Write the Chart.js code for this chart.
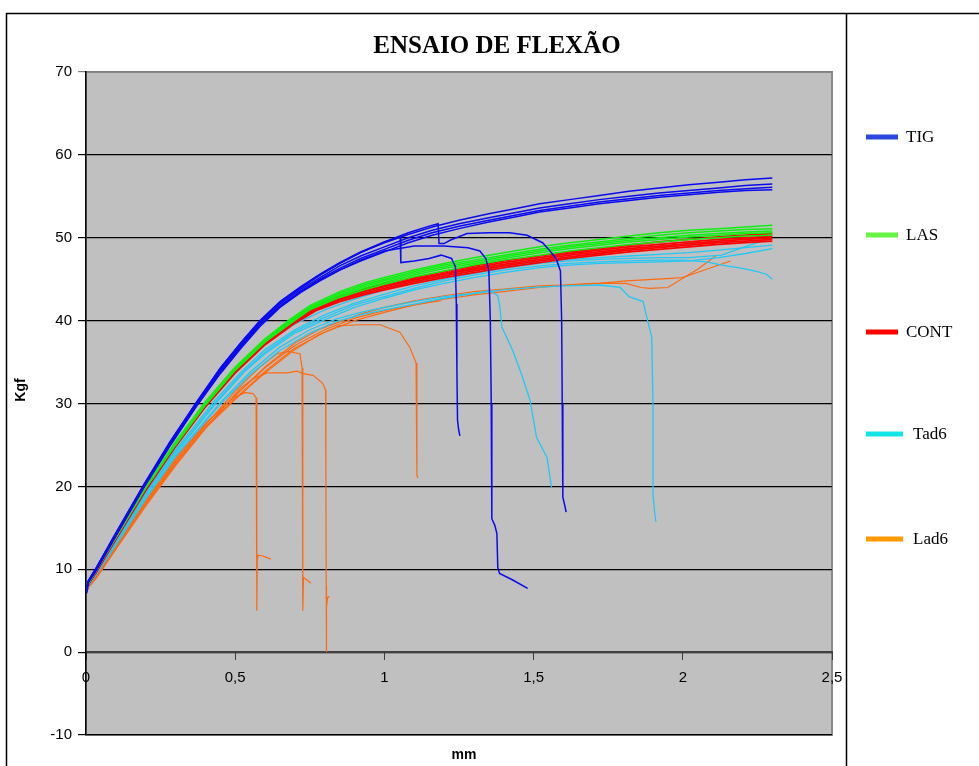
<!DOCTYPE html>
<html>
<head>
<meta charset="utf-8">
<title>Ensaio de flexão</title>
<script src="https://cdn.jsdelivr.net/npm/chart.js@4.4.1/dist/chart.umd.min.js"></script>
<style>
	html, body { margin: 0; padding: 0; background: #fff; }
	#myChart { display: block; }
</style>
</head>
<body>
<canvas id="myChart" width="979" height="766"></canvas>
<script>
// displacement (mm) / load (Kgf) pairs, one array per specimen

// TIG
const tig1 = [[0,7.1],[0.008,8.6],[0.035,10.2],[0.1,14.3],[0.195,20.2],[0.28,25.2],[0.369,30.0],[0.45,34.2],[0.52,37.3],[0.583,39.9],[0.65,42.2],[0.72,44.0],[0.784,45.5],[0.85,46.9],[0.92,48.2],[1.0,49.4],[1.08,50.4],[1.16,51.3],[1.25,52.1],[1.35,52.9],[1.45,53.6],[1.52,54.1],[1.62,54.6],[1.72,55.1],[1.82,55.6],[1.92,56.0],[2.02,56.4],[2.12,56.7],[2.21,57.0],[2.3,57.2]];
const tig2 = [[0,7.1],[0.008,8.5],[0.035,10.1],[0.1,14.2],[0.195,20.1],[0.28,25.1],[0.369,29.9],[0.45,34.0],[0.52,37.1],[0.583,39.7],[0.65,42.0],[0.72,43.8],[0.784,45.2],[0.85,46.6],[0.92,47.8],[1.0,48.9],[1.08,50.0],[1.16,50.9],[1.25,51.7],[1.35,52.4],[1.45,53.1],[1.52,53.6],[1.62,54.1],[1.72,54.6],[1.82,55.0],[1.92,55.4],[2.02,55.7],[2.12,56.0],[2.21,56.3],[2.3,56.5]];
const tig3 = [[0,7.0],[0.008,8.5],[0.035,10.0],[0.1,14.1],[0.195,20.0],[0.28,24.9],[0.369,29.7],[0.45,33.8],[0.52,36.9],[0.583,39.5],[0.65,41.8],[0.72,43.6],[0.784,45.0],[0.85,46.3],[0.92,47.5],[1.0,48.6],[1.08,49.7],[1.16,50.6],[1.25,51.4],[1.35,52.1],[1.45,52.8],[1.52,53.3],[1.62,53.8],[1.72,54.3],[1.82,54.7],[1.92,55.1],[2.02,55.4],[2.12,55.7],[2.21,55.9],[2.3,56.1]];
const tig4 = [[0,7.0],[0.008,8.4],[0.035,9.9],[0.1,14.0],[0.195,19.9],[0.28,24.8],[0.369,29.6],[0.45,33.6],[0.52,36.7],[0.583,39.3],[0.65,41.6],[0.72,43.4],[0.784,44.8],[0.85,46.1],[0.92,47.2],[1.0,48.3],[1.08,49.4],[1.16,50.3],[1.25,51.1],[1.35,51.9],[1.45,52.6],[1.52,53.1],[1.62,53.6],[1.72,54.1],[1.82,54.5],[1.92,54.9],[2.02,55.2],[2.12,55.5],[2.21,55.7],[2.3,55.8]];
const tig5 = [[0,7.2],[0.008,8.6],[0.035,10.2],[0.1,14.4],[0.195,20.3],[0.28,25.3],[0.369,30.1],[0.45,34.3],[0.52,37.4],[0.583,40.0],[0.65,42.3],[0.72,44.1],[0.784,45.6],[0.85,47.0],[0.92,48.3],[1.0,49.5],[1.053,50.1],[1.055,47.0],[1.1,47.2],[1.15,47.5],[1.19,47.9],[1.225,47.5],[1.238,46.5],[1.241,42.0],[1.243,34.0],[1.245,28.0],[1.249,26.8],[1.253,26.1]];
const tig6 = [[0,7.1],[0.008,8.6],[0.035,10.2],[0.1,14.3],[0.195,20.2],[0.28,25.2],[0.369,30.0],[0.45,34.2],[0.52,37.3],[0.583,39.9],[0.65,42.2],[0.72,44.0],[0.784,45.5],[0.85,46.9],[0.92,48.2],[1.0,49.5],[1.08,50.6],[1.15,51.4],[1.18,51.7],[1.183,49.3],[1.2,49.3],[1.22,49.7],[1.277,50.5],[1.35,50.6],[1.42,50.6],[1.478,50.3],[1.53,49.4],[1.555,48.4],[1.575,47.5],[1.59,46.0],[1.594,40.0],[1.596,30.0],[1.598,18.7],[1.605,17.6],[1.609,16.9]];
const tig7 = [[0,7.0],[0.008,8.5],[0.035,10.0],[0.1,14.1],[0.195,20.0],[0.28,24.9],[0.369,29.7],[0.45,33.8],[0.52,36.9],[0.583,39.5],[0.65,41.7],[0.72,43.5],[0.784,44.9],[0.85,46.1],[0.92,47.3],[1.0,48.4],[1.1,49.0],[1.2,49.0],[1.28,48.8],[1.32,48.4],[1.34,47.5],[1.35,46.0],[1.355,40.0],[1.358,30.0],[1.36,16.1],[1.37,15.3],[1.377,14.3],[1.38,10.2],[1.386,9.5],[1.43,8.7],[1.48,7.7]];

// LAS
const las1 = [[0,7.0],[0.008,8.4],[0.035,10.0],[0.1,14.0],[0.2,20.0],[0.3,25.4],[0.4,30.2],[0.5,34.4],[0.6,37.8],[0.678,40.0],[0.75,41.8],[0.85,43.5],[0.93,44.5],[1.0,45.2],[1.1,46.1],[1.2,46.9],[1.3,47.6],[1.4,48.2],[1.52,48.9],[1.62,49.4],[1.72,49.8],[1.82,50.2],[1.92,50.6],[2.02,50.9],[2.12,51.1],[2.21,51.3],[2.3,51.5]];
const las2 = [[0,7.0],[0.008,8.4],[0.035,10.0],[0.1,14.0],[0.2,19.9],[0.3,25.3],[0.4,30.1],[0.5,34.3],[0.6,37.7],[0.68,39.9],[0.75,41.6],[0.85,43.3],[0.93,44.3],[1.0,45.0],[1.1,45.9],[1.2,46.7],[1.3,47.3],[1.4,47.9],[1.52,48.6],[1.62,49.1],[1.72,49.5],[1.82,49.9],[1.92,50.3],[2.02,50.6],[2.12,50.8],[2.21,51.0],[2.3,51.1]];
const las3 = [[0,7.0],[0.008,8.3],[0.035,9.9],[0.1,13.9],[0.2,19.9],[0.3,25.2],[0.4,30.0],[0.5,34.2],[0.6,37.6],[0.68,39.8],[0.75,41.5],[0.85,43.1],[0.93,44.1],[1.0,44.8],[1.1,45.7],[1.2,46.5],[1.3,47.1],[1.4,47.7],[1.52,48.4],[1.62,48.9],[1.72,49.3],[1.82,49.7],[1.92,50.0],[2.02,50.3],[2.12,50.5],[2.21,50.7],[2.3,50.8]];
const las4 = [[0,7.0],[0.008,8.3],[0.035,9.9],[0.1,13.9],[0.2,19.8],[0.3,25.1],[0.4,29.9],[0.5,34.1],[0.6,37.5],[0.69,39.9],[0.75,41.4],[0.85,42.9],[0.93,43.9],[1.0,44.6],[1.1,45.5],[1.2,46.3],[1.3,46.9],[1.4,47.5],[1.52,48.2],[1.62,48.7],[1.72,49.1],[1.82,49.5],[1.92,49.8],[2.02,50.1],[2.12,50.3],[2.21,50.5],[2.3,50.6]];
const las5 = [[0,7.0],[0.008,8.3],[0.035,9.9],[0.1,13.8],[0.2,19.8],[0.3,25.0],[0.4,29.8],[0.5,34.0],[0.6,37.4],[0.69,39.8],[0.75,41.3],[0.85,42.8],[0.93,43.7],[1.0,44.4],[1.1,45.3],[1.2,46.0],[1.3,46.7],[1.4,47.3],[1.52,47.9],[1.62,48.4],[1.72,48.8],[1.82,49.2],[1.92,49.5],[2.02,49.8],[2.12,50.0],[2.21,50.2],[2.3,50.3]];

// CONT
const cont1 = [[0,7.0],[0.008,8.3],[0.035,9.9],[0.1,13.9],[0.2,19.9],[0.3,25.2],[0.4,30.0],[0.5,34.1],[0.6,37.5],[0.69,40.0],[0.77,41.7],[0.85,42.9],[0.93,43.8],[1.0,44.4],[1.1,45.2],[1.2,45.9],[1.3,46.6],[1.4,47.2],[1.52,47.8],[1.62,48.3],[1.72,48.7],[1.82,49.1],[1.92,49.5],[2.02,49.8],[2.12,50.1],[2.21,50.3],[2.3,50.5]];
const cont2 = [[0,7.0],[0.008,8.3],[0.035,9.8],[0.1,13.8],[0.2,19.8],[0.3,25.1],[0.4,29.9],[0.5,34.0],[0.6,37.4],[0.69,39.9],[0.77,41.6],[0.85,42.8],[0.93,43.6],[1.0,44.2],[1.1,45.0],[1.2,45.7],[1.3,46.4],[1.4,47.0],[1.52,47.6],[1.62,48.1],[1.72,48.5],[1.82,48.9],[1.92,49.2],[2.02,49.5],[2.12,49.8],[2.21,50.0],[2.3,50.2]];
const cont3 = [[0,7.0],[0.008,8.2],[0.035,9.8],[0.1,13.8],[0.2,19.7],[0.3,25.0],[0.4,29.8],[0.5,33.9],[0.6,37.3],[0.7,39.9],[0.77,41.4],[0.85,42.6],[0.93,43.5],[1.0,44.1],[1.1,44.9],[1.2,45.6],[1.3,46.2],[1.4,46.8],[1.52,47.4],[1.62,47.9],[1.72,48.3],[1.82,48.7],[1.92,49.0],[2.02,49.3],[2.12,49.6],[2.21,49.8],[2.3,50.0]];
const cont4 = [[0,7.0],[0.008,8.2],[0.035,9.7],[0.1,13.7],[0.2,19.6],[0.3,24.9],[0.4,29.7],[0.5,33.8],[0.6,37.2],[0.7,39.8],[0.77,41.3],[0.85,42.5],[0.93,43.3],[1.0,43.9],[1.1,44.7],[1.2,45.4],[1.3,46.0],[1.4,46.6],[1.52,47.2],[1.62,47.7],[1.72,48.1],[1.82,48.5],[1.92,48.8],[2.02,49.1],[2.12,49.4],[2.21,49.6],[2.3,49.8]];
const cont5 = [[0,7.0],[0.008,8.2],[0.035,9.7],[0.1,13.6],[0.2,19.5],[0.3,24.8],[0.4,29.6],[0.5,33.7],[0.6,37.1],[0.7,39.7],[0.77,41.2],[0.85,42.3],[0.93,43.1],[1.0,43.7],[1.1,44.5],[1.2,45.2],[1.3,45.8],[1.4,46.4],[1.52,47.0],[1.62,47.5],[1.72,47.9],[1.82,48.3],[1.92,48.6],[2.02,48.9],[2.12,49.2],[2.21,49.4],[2.3,49.6]];

// Tad6
const tad1 = [[0,7.0],[0.008,8.2],[0.035,9.6],[0.1,13.4],[0.2,19.2],[0.3,24.4],[0.43,30.3],[0.52,33.8],[0.6,36.5],[0.7,38.9],[0.8,40.7],[0.9,42.1],[1.0,43.2],[1.1,44.2],[1.2,45.0],[1.3,45.7],[1.4,46.3],[1.52,46.9],[1.62,47.2],[1.72,47.4],[1.82,47.5],[1.92,47.6],[2.02,47.6],[2.13,47.9],[2.2,48.8],[2.25,49.4],[2.3,49.9]];
const tad2 = [[0,7.0],[0.008,8.1],[0.035,9.5],[0.1,13.2],[0.2,18.9],[0.3,24.0],[0.44,30.2],[0.53,33.8],[0.6,36.0],[0.7,38.5],[0.807,40.2],[0.9,41.6],[1.0,42.7],[1.1,43.7],[1.2,44.5],[1.3,45.2],[1.4,45.8],[1.52,46.4],[1.62,46.7],[1.72,46.9],[1.82,47.0],[1.92,47.1],[2.02,47.2],[2.12,47.6],[2.21,48.1],[2.3,48.7]];
const tad3 = [[0,7.1],[0.008,8.2],[0.035,9.6],[0.1,13.3],[0.2,19.0],[0.3,24.2],[0.44,30.4],[0.53,33.9],[0.6,36.2],[0.7,38.7],[0.8,40.4],[0.9,41.9],[1.0,42.9],[1.1,43.9],[1.2,44.8],[1.3,45.5],[1.4,46.1],[1.52,46.6],[1.62,46.9],[1.72,47.1],[1.82,47.2],[1.92,47.3],[2.0,47.3],[2.08,47.1],[2.13,46.7],[2.2,46.3],[2.25,45.9],[2.28,45.6],[2.3,45.0]];
const tad4 = [[0,7.0],[0.008,8.0],[0.035,9.4],[0.1,13.0],[0.2,18.6],[0.3,23.7],[0.45,30.1],[0.55,33.8],[0.65,36.8],[0.75,38.9],[0.84,40.2],[0.92,41.0],[1.0,41.6],[1.1,42.3],[1.2,42.9],[1.3,43.3],[1.4,43.7],[1.5,44.0],[1.6,44.2],[1.722,44.3],[1.79,44.0],[1.82,42.9],[1.867,42.3],[1.882,40.0],[1.896,38.0],[1.9,30.0],[1.9,19.2],[1.905,17.0],[1.91,15.7]];
const tad5 = [[0,7.0],[0.008,8.0],[0.035,9.4],[0.1,12.9],[0.2,18.5],[0.3,23.6],[0.45,29.9],[0.55,33.5],[0.65,36.4],[0.75,38.5],[0.84,39.9],[0.92,40.7],[1.0,41.3],[1.1,42.0],[1.2,42.7],[1.3,43.3],[1.354,43.6],[1.38,43.0],[1.387,41.6],[1.394,39.2],[1.43,36.4],[1.46,33.5],[1.488,30.4],[1.51,25.9],[1.545,23.5],[1.56,19.9]];
const tad6 = [[0,7.1],[0.008,8.3],[0.035,9.8],[0.1,13.6],[0.2,19.5],[0.3,24.8],[0.41,30.1],[0.5,33.9],[0.6,37.2],[0.7,39.6],[0.8,41.3],[0.9,42.6],[1.0,43.7],[1.1,44.6],[1.2,45.4],[1.3,46.0],[1.4,46.6],[1.52,47.1],[1.62,47.4],[1.72,47.6],[1.82,47.8],[1.92,48.0],[2.02,48.2],[2.12,48.5],[2.21,48.8],[2.3,49.1]];

// Lad6
const lad1 = [[0,7.0],[0.008,7.9],[0.035,9.2],[0.1,12.8],[0.2,18.3],[0.3,23.4],[0.4,27.6],[0.49,30.6],[0.6,34.4],[0.7,37.3],[0.78,38.9],[0.86,40.0],[0.93,40.9],[1.0,41.6],[1.1,42.4],[1.2,43.0],[1.3,43.5],[1.4,43.8],[1.52,44.2],[1.6,44.3],[1.7,44.5],[1.81,44.5],[1.86,44.0],[1.89,43.9],[1.95,44.0],[2.0,45.1],[2.05,46.2],[2.11,47.8]];
const lad2 = [[0,7.0],[0.008,7.9],[0.035,9.1],[0.1,12.6],[0.2,18.0],[0.3,23.0],[0.4,27.2],[0.5,30.6],[0.6,33.9],[0.7,36.7],[0.8,38.6],[0.9,40.0],[1.0,41.0],[1.1,41.9],[1.2,42.6],[1.3,43.1],[1.4,43.5],[1.52,44.0],[1.62,44.3],[1.72,44.5],[1.81,44.8],[1.96,45.1],[2.0,45.2],[2.08,46.2],[2.16,47.2]];
const lad3 = [[0,7.0],[0.008,7.9],[0.035,9.2],[0.1,12.7],[0.2,18.2],[0.3,23.2],[0.4,27.5],[0.5,31.0],[0.6,34.3],[0.7,37.0],[0.8,38.9],[0.9,40.3],[1.0,41.2],[1.1,41.9],[1.19,42.4]];
const lad4 = [[0,7.0],[0.008,7.9],[0.035,9.1],[0.1,12.6],[0.2,17.9],[0.3,22.8],[0.4,27.0],[0.5,30.5],[0.6,33.7],[0.7,36.5],[0.78,38.3],[0.851,39.4],[0.92,39.5],[0.985,39.5],[1.052,38.6],[1.086,36.7],[1.106,34.9],[1.109,21.3],[1.113,21.0]];
const lad5 = [[0,7.0],[0.008,7.8],[0.035,9.0],[0.1,12.5],[0.2,17.8],[0.3,22.6],[0.4,27.0],[0.516,31.8],[0.56,33.0],[0.607,33.7],[0.674,33.7],[0.707,33.9],[0.727,33.6],[0.761,33.4],[0.794,32.4],[0.803,31.6],[0.804,20.0],[0.805,8.0],[0.805,0.0],[0.807,5.5],[0.81,6.6],[0.816,6.7]];
const lad6 = [[0,7.0],[0.008,7.8],[0.035,9.0],[0.1,12.5],[0.2,17.9],[0.3,22.9],[0.4,27.4],[0.5,31.5],[0.58,34.3],[0.64,36.0],[0.68,36.3],[0.7,36.1],[0.717,36.0],[0.724,34.3],[0.726,26.4],[0.727,5.0],[0.729,9.0],[0.74,8.7],[0.754,8.3]];
const lad7 = [[0,7.0],[0.008,7.8],[0.035,9.0],[0.1,12.4],[0.2,17.6],[0.3,22.5],[0.4,27.0],[0.472,30.0],[0.5,30.8],[0.533,31.3],[0.56,31.2],[0.57,30.7],[0.572,20.0],[0.573,5.0],[0.574,11.1],[0.577,11.7],[0.593,11.6],[0.607,11.4],[0.62,11.2]];

const xTicks = [0, 0.5, 1, 1.5, 2, 2.5];
const yTicks = [-10, 0, 10, 20, 30, 40, 50, 60, 70];

// one entry per group: legend name, line colour, legend swatch colour, width, curves
const groups = [
	{ name: 'TIG',  color: '#0a0af0', key: '#2a48e0', width: 1.5, curves: [tig1, tig2, tig3, tig4, tig5, tig6, tig7] },
	{ name: 'LAS',  color: '#10f010', key: '#66f544', width: 1.5, curves: [las1, las2, las3, las4, las5] },
	{ name: 'CONT', color: '#ff0000', key: '#ff0000', width: 1.8, curves: [cont1, cont2, cont3, cont4, cont5] },
	{ name: 'Tad6', color: '#22c8f5', key: '#10e6e6', width: 1.3, curves: [tad1, tad2, tad3, tad4, tad5, tad6] },
	{ name: 'Lad6', color: '#ff6a10', key: '#ff9a00', width: 1.2, curves: [lad1, lad2, lad3, lad4, lad5, lad6, lad7] }
];

const datasets = [];
groups.forEach(g => {
	g.curves.forEach(c => {
		datasets.push({
			label: g.name,
			data: c,
			showLine: true,
			borderColor: g.color,
			borderWidth: g.width,
			pointRadius: 0,
			tension: 0
		});
	});
});

const fmt = v => String(v).replace('.', ',');

// grey plot area, frame, title, axis names and the legend panel
const framePlugin = {
	id: 'framePlugin',
	beforeDraw(chart) {
		const {ctx, chartArea: a} = chart;
		ctx.save();
		ctx.fillStyle = '#ffffff';
		ctx.fillRect(0, 0, chart.width, chart.height);
		ctx.fillStyle = '#c0c0c0';
		ctx.fillRect(a.left, a.top, a.right - a.left, a.bottom - a.top);
		ctx.strokeStyle = '#8a8a8a';
		ctx.lineWidth = 2;
		ctx.strokeRect(a.left, a.top, a.right - a.left, a.bottom - a.top);
		ctx.restore();
	},
	afterDraw(chart) {
		const ctx = chart.ctx;
		ctx.save();
		// outer frame and legend panel
		ctx.strokeStyle = '#000';
		ctx.lineWidth = 1.5;
		ctx.beginPath();
		ctx.moveTo(6.5, 766);
		ctx.lineTo(6.5, 13.5);
		ctx.lineTo(979, 13.5);
		ctx.moveTo(846.5, 13.5);
		ctx.lineTo(846.5, 766);
		ctx.stroke();

		ctx.fillStyle = '#000';
		ctx.textAlign = 'center';
		ctx.textBaseline = 'middle';
		ctx.font = 'bold 25px "Liberation Serif", "Times New Roman", serif';
		ctx.fillText('ENSAIO DE FLEXÃO', 497, 47);

		ctx.font = 'bold 14px "Liberation Sans", Arial, sans-serif';
		ctx.fillText('mm', 464, 755);
		ctx.save();
		ctx.translate(21, 390);
		ctx.rotate(-Math.PI / 2);
		ctx.fillText('Kgf', 0, 0);
		ctx.restore();

		// legend entries
		const rows = [137, 235, 332, 434, 539];
		ctx.textAlign = 'left';
		ctx.font = '17px "Liberation Serif", "Times New Roman", serif';
		groups.forEach((g, i) => {
			const long = g.name === 'Tad6' || g.name === 'Lad6';
			ctx.fillStyle = g.key;
			ctx.fillRect(866, rows[i] - 2.5, long ? 37 : 32, 5);
			ctx.fillStyle = '#000';
			ctx.fillText(g.name, long ? 913 : 906, rows[i] + 1);
		});
		ctx.restore();
	}
};

const ctx = document.getElementById('myChart');
const myChart = new Chart(ctx, {
	type: 'scatter',
	data: { datasets: datasets },
	options: {
		responsive: false,
		animation: false,
		devicePixelRatio: 1,
		layout: { padding: { left: 6, top: 72, right: 147, bottom: 31 } },
		plugins: {
			legend: { display: false },
			title: { display: false },
			tooltip: { enabled: false }
		},
		scales: {
			x: {
				type: 'linear',
				position: { y: 0 },
				min: 0,
				max: 2.5,
				afterBuildTicks: s => { s.ticks = xTicks.map(v => ({ value: v })); },
				ticks: {
					color: '#000',
					font: { family: '"Liberation Sans", Arial, sans-serif', size: 15 },
					padding: 10,
					maxRotation: 0,
					callback: v => fmt(v)
				},
				grid: { drawOnChartArea: false, tickLength: 7, color: '#404040' },
				border: { color: '#404040', width: 2 }
			},
			y: {
				type: 'linear',
				position: 'left',
				min: -10,
				max: 70,
				afterBuildTicks: s => { s.ticks = yTicks.map(v => ({ value: v })); },
				afterFit: s => { s.width = 80; },
				ticks: {
					color: '#000',
					font: { family: '"Liberation Sans", Arial, sans-serif', size: 15 },
					padding: 6
				},
				grid: {
					color: c => (c.tick && c.tick.value === 70) ? '#808080' : '#000000',
					lineWidth: 1.2,
					tickLength: 8
				},
				border: { color: '#000', width: 1.5 }
			}
		}
	},
	plugins: [framePlugin]
});
</script>
</body>
</html>
